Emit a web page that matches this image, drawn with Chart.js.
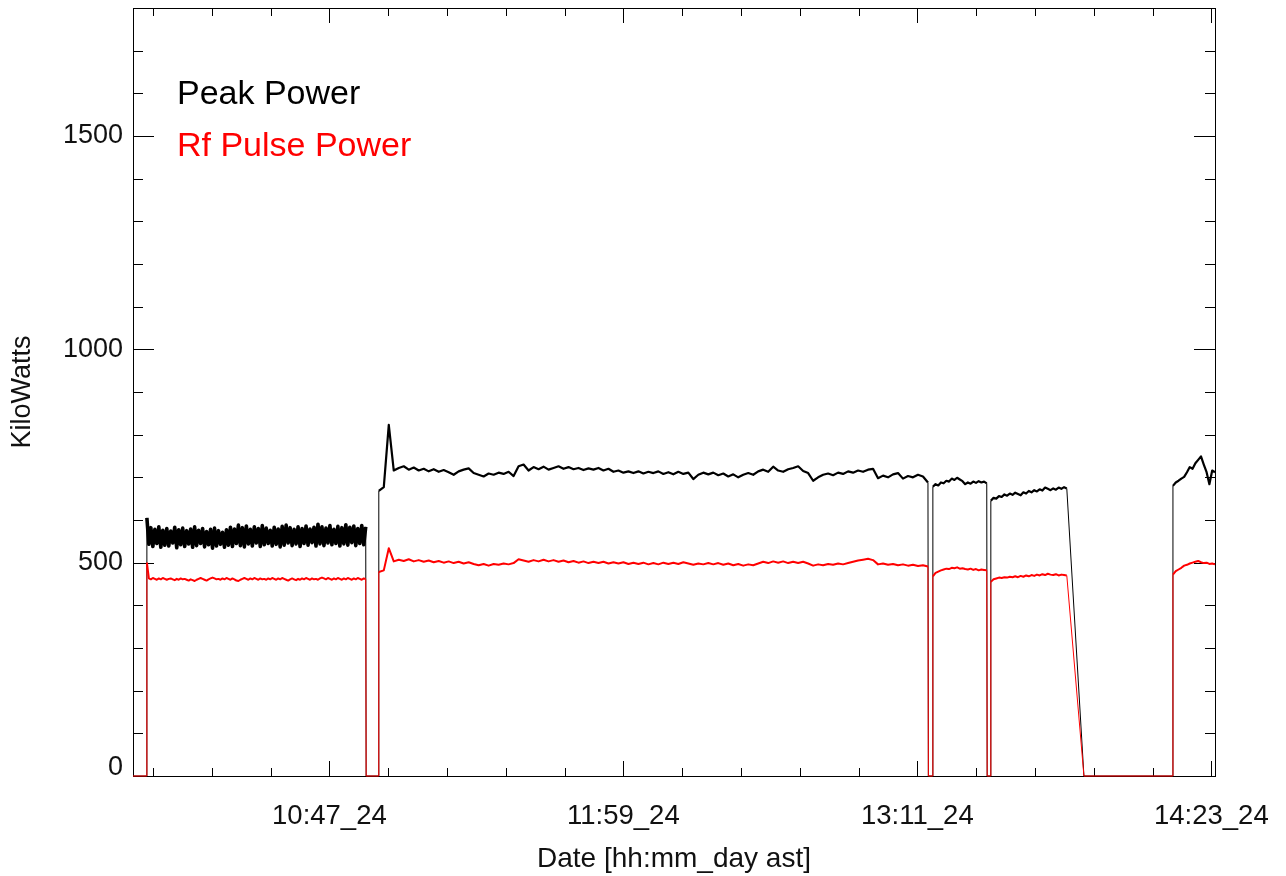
<!DOCTYPE html>
<html>
<head>
<meta charset="utf-8">
<title>Peak Power / Rf Pulse Power</title>
<script src="https://cdn.jsdelivr.net/npm/chart.js@4.4.1/dist/chart.umd.min.js"></script>
<style>
	html, body { margin: 0; padding: 0; background: #fff; }
	#wrap { width: 1286px; height: 876px; }
</style>
</head>
<body>
<div id="wrap"><canvas id="power" width="1286" height="876"></canvas></div>
<script>
// x axis is minutes after midnight (day 24, ast)
const xRange = [598.9, 863.9];
const xMajorTicks = [647, 719, 791, 863];
const xTickLabels = ['10:47_24', '11:59_24', '13:11_24', '14:23_24'];
const xMinorStep = 14.4;
const yRange = [0, 1800];
const yMajorTicks = [0, 500, 1000, 1500];
const yTickLabels = ['0', '500', '1000', '1500'];
const yMinorStep = 100;

// transmitter on intervals, and the zero readings between them
const segStart = [602.3, 659.1, 794.8, 809.0, 853.6];
const segEnd = [655.9, 793.6, 808.0, 827.6, 863.9];
const zeroTimes = [598.9, 602.2, 656.0, 659.0, 793.7, 794.7, 808.1, 808.9, 831.8, 853.5];

// Peak Power readings (kW), evenly sampled inside each interval
const peakSeg1 = [
	605, 543, 582, 538, 578, 545, 584, 536, 576, 541,
	580, 539, 574, 546, 583, 535, 577, 542, 581, 538,
	575, 544, 579, 536, 584, 540, 576, 545, 580, 537,
	573, 542, 578, 534, 581, 539, 575, 543, 571, 536,
	577, 541, 583, 538, 579, 545, 588, 540, 582, 537,
	586, 544, 578, 539, 584, 546, 580, 538, 587, 542,
	581, 545, 576, 539, 583, 543, 579, 537, 585, 541,
	588, 546, 582, 540, 578, 544, 584, 538, 580, 545,
	586, 541, 579, 547, 583, 539, 590, 544, 584, 540,
	581, 546, 587, 542, 578, 545, 585, 539, 582, 544,
	589, 541, 583, 547, 586, 540, 580, 545, 587, 542, 584,
];
const peakSeg2 = [
	668, 677, 823, 716, 722, 726, 718, 723, 716, 720,
	714, 719, 713, 717, 712, 706, 714, 718, 721, 710,
	706, 702, 709, 706, 711, 708, 713, 703, 726, 730,
	716, 724, 719, 725, 718, 722, 726, 720, 724, 719,
	722, 717, 721, 718, 722, 716, 720, 713, 716, 711,
	714, 710, 714, 709, 713, 710, 714, 708, 712, 707,
	713, 708, 711, 696, 706, 711, 707, 711, 705, 709,
	702, 707, 700, 706, 710, 706, 714, 718, 713, 725,
	716, 713, 719, 722, 726, 715, 710, 692, 700, 706,
	709, 705, 711, 708, 714, 711, 716, 713, 718, 720,
	698, 704, 700, 707, 710, 697, 703, 700, 706, 702, 688,
];
const peakSeg3 = [678, 684, 681, 688, 686, 692, 690, 697, 694, 699, 695, 691, 684, 688, 685, 690, 687, 691, 688, 690, 686];
const peakSeg4 = [645, 652, 650, 656, 654, 660, 657, 662, 659, 664, 661, 658, 665, 662, 668, 665, 670, 667, 672, 669, 676, 673, 670, 674, 671, 676, 673, 677, 674];
const peakSeg5 = [680, 688, 692, 697, 701, 712, 724, 720, 733, 741, 749, 730, 712, 684, 716, 712];

// Rf Pulse Power readings (kW)
const rfSeg1 = [
	500, 463, 461, 464, 462, 460, 463, 461, 464, 462,
	460, 462, 463, 461, 459, 462, 460, 463, 461, 462,
	460, 458, 461, 459, 457, 460, 462, 464, 462, 460,
	458, 461, 463, 465, 463, 461, 462, 460, 463, 461,
	464, 462, 460, 463, 461, 458, 457, 460, 462, 464,
	462, 460, 463, 461, 464, 462, 460, 463, 461, 462,
	460, 463, 461, 464, 462, 460, 463, 461, 464, 462,
	460, 458, 461, 463, 461, 459, 462, 460, 463, 461,
	464, 462, 460, 463, 461, 462, 460, 463, 465, 463,
	461, 464, 462, 460, 463, 461, 464, 462, 460, 463,
	461, 464, 462, 460, 463, 461, 464, 462, 460, 463, 462,
];
const rfSeg2 = [
	478, 482, 534, 503, 507, 504, 508, 503, 506, 502,
	505, 501, 504, 500, 503, 499, 502, 498, 501, 497,
	494, 497, 493, 497, 495, 498, 496, 499, 508, 505,
	502, 506, 503, 507, 503, 506, 502, 505, 501, 504,
	500, 503, 499, 502, 499, 502, 498, 501, 498, 501,
	497, 500, 497, 500, 496, 499, 496, 500, 497, 500,
	497, 501, 498, 495, 498, 496, 499, 496, 499, 495,
	498, 494, 497, 493, 496, 494, 498, 502, 499, 503,
	500, 503, 499, 502, 499, 502, 498, 493, 496, 494,
	497, 495, 498, 496, 499, 502, 505, 507, 509, 506,
	496, 498, 495, 497, 494, 496, 493, 495, 492, 494, 491,
];
const rfSeg3 = [468, 476, 479, 482, 484, 486, 485, 488, 487, 489, 486, 487, 485, 484, 486, 483, 485, 482, 484, 483, 482];
const rfSeg4 = [455, 461, 463, 465, 464, 466, 465, 467, 466, 468, 466, 469, 467, 470, 468, 471, 469, 472, 470, 473, 471, 474, 472, 471, 473, 470, 472, 471, 470];
const rfSeg5 = [472, 480, 484, 488, 493, 495, 498, 500, 502, 504, 501, 499, 500, 497, 498, 496];

const FONT = '"Liberation Sans", Helvetica, Arial, sans-serif';

const buildSeries = (segments) => {
	let pts = zeroTimes.map((t) => ({ x: t, y: 0 }));
	segments.forEach((vals, i) => {
		let dt = (segEnd[i] - segStart[i]) / (vals.length - 1);
		vals.forEach((v, j) => pts.push({ x: segStart[i] + j * dt, y: v }));
	});
	return pts.sort((a, b) => a.x - b.x);
};

// on/off transitions are thin, the noisy readings a bit heavier
const lineWidth = (normal, first) => (c) => {
	if (c.p0.parsed.y === 0 || c.p1.parsed.y === 0) return 1;
	if (c.p1.parsed.x <= segEnd[0]) return first;
	return normal;
};

const noPadding = (scale) => {
	scale.paddingTop = 0;
	scale.paddingBottom = 0;
	scale.paddingLeft = 0;
	scale.paddingRight = 0;
};

// frame with inward ticks on all four sides, like the original plot
const frameTicks = {
	id: 'frameTicks',
	beforeDatasetsDraw(chart) {
		const { ctx, chartArea: a, scales } = chart;
		ctx.save();
		ctx.strokeStyle = '#000';
		ctx.lineWidth = 1;
		ctx.beginPath();
		for (let v = yRange[0]; v < yRange[1]; v += yMinorStep) {
			let y = Math.round(scales.y.getPixelForValue(v)) + 0.5;
			let len = yMajorTicks.includes(v) ? 21 : 10;
			ctx.moveTo(a.left, y);
			ctx.lineTo(a.left + len, y);
			ctx.moveTo(a.right, y);
			ctx.lineTo(a.right - len, y);
		}
		for (let i = -3; i <= 15; i++) {
			let v = xMajorTicks[0] + i * xMinorStep;
			if (v < xRange[0] || v > xRange[1]) continue;
			let x = Math.round(scales.x.getPixelForValue(v)) + 0.5;
			let len = i % 5 === 0 ? 15 : 8;
			ctx.moveTo(x, a.bottom);
			ctx.lineTo(x, a.bottom - len);
			ctx.moveTo(x, a.top);
			ctx.lineTo(x, a.top + len);
		}
		ctx.stroke();
		ctx.strokeRect(Math.round(a.left) + 0.5, Math.round(a.top) + 0.5, Math.round(a.right - a.left), Math.round(a.bottom - a.top));
		ctx.restore();
	},
	afterDatasetsDraw(chart) {
		const { ctx, chartArea: a } = chart;
		ctx.save();
		ctx.font = '34px ' + FONT;
		ctx.textAlign = 'left';
		ctx.textBaseline = 'alphabetic';
		// legend text, Peak Power on the first row
		let sets = chart.data.datasets;
		[1, 0].forEach((idx, row) => {
			ctx.fillStyle = sets[idx].borderColor;
			ctx.fillText(sets[idx].label, a.left + 44, a.top + 96 + row * 52);
		});
		ctx.restore();
	},
};

const ctx = document.getElementById('power');
const chart = new Chart(ctx, {
	type: 'line',
	data: {
		datasets: [
			{
				label: 'Rf Pulse Power',
				data: buildSeries([rfSeg1, rfSeg2, rfSeg3, rfSeg4, rfSeg5]),
				borderColor: '#ff0000',
				borderWidth: 2,
				borderJoinStyle: 'round',
				segment: { borderWidth: lineWidth(2, 2) },
				pointRadius: 0,
				tension: 0,
				clip: 4,
				order: 0,
			},
			{
				label: 'Peak Power',
				data: buildSeries([peakSeg1, peakSeg2, peakSeg3, peakSeg4, peakSeg5]),
				borderColor: '#000000',
				borderWidth: 2.2,
				borderJoinStyle: 'round',
				segment: { borderWidth: lineWidth(2.2, 3.6) },
				pointRadius: 0,
				tension: 0,
				clip: 4,
				order: 1,
			},
		],
	},
	options: {
		responsive: false,
		animation: false,
		devicePixelRatio: 1,
		layout: { padding: { left: 0, top: 8, right: 71, bottom: 0 } },
		plugins: { legend: { display: false }, tooltip: { enabled: false } },
		scales: {
			x: {
				type: 'linear',
				min: xRange[0],
				max: xRange[1],
				grid: { display: false },
				border: { display: false },
				afterBuildTicks: (scale) => {
					scale.ticks = xMajorTicks.map((v) => ({ value: v }));
				},
				afterFit: (scale) => {
					scale.height = 100;
					noPadding(scale);
				},
				ticks: {
					autoSkip: false,
					maxRotation: 0,
					padding: 16,
					color: '#111',
					font: { family: FONT, size: 27.5, lineHeight: 1.2 },
					callback: (v, i) => xTickLabels[i],
				},
				title: {
					display: true,
					text: 'Date [hh:mm_day ast]',
					color: '#111',
					padding: { top: 4, bottom: 0 },
					font: { family: FONT, size: 28, lineHeight: 1.2 },
				},
			},
			y: {
				min: yRange[0],
				max: yRange[1],
				grid: { display: false },
				border: { display: false },
				afterBuildTicks: (scale) => {
					scale.ticks = yMajorTicks.map((v) => ({ value: v }));
				},
				afterFit: (scale) => {
					scale.width = 133;
					noPadding(scale);
				},
				ticks: {
					padding: 2,
					color: '#111',
					// the zero label sits a little above its tick in the original
					font: (c) => ({ family: FONT, size: 27, lineHeight: c.index === 0 ? 0.66 : 1.2 }),
					callback: (v, i) => (i === 0 ? [yTickLabels[i], ''] : yTickLabels[i]),
				},
				title: {
					display: true,
					text: 'KiloWatts',
					color: '#111',
					padding: { top: 6, bottom: 0 },
					font: { family: FONT, size: 27, lineHeight: 1.2 },
				},
			},
		},
	},
	plugins: [frameTicks],
});
</script>
</body>
</html>
